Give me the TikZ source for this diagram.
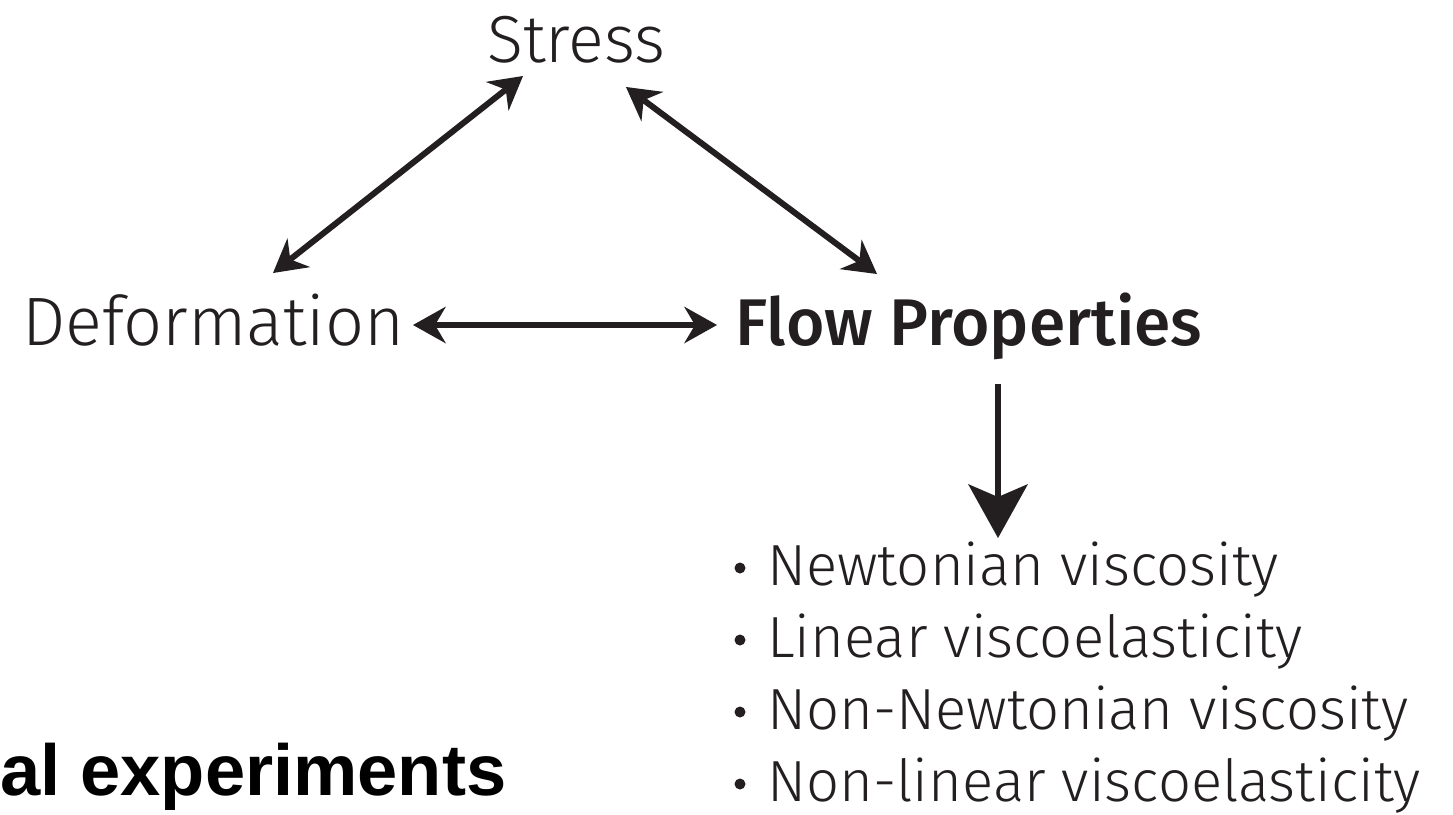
\documentclass[tikz,border=0pt]{standalone}
\usepackage{fontspec}
\setmainfont{Fira Sans Light}[BoldFont=Fira Sans Medium]
\newfontfamily\arialf{Liberation Sans}
\usetikzlibrary{arrows.meta}
\definecolor{ink}{HTML}{231F20}
\tikzset{
  lbl/.style={inner sep=0pt, anchor=base west, text=ink},
  item/.style={lbl, font=\fontsize{58}{64}\selectfont},
  bulletdot/.style={circle, fill=ink, inner sep=0pt, minimum size=11pt},
  dbl/.style={line width=6pt, draw=ink, {Stealth[length=33pt,width=37pt,inset=11pt,line width=0pt]}-{Stealth[length=33pt,width=37pt,inset=11pt,line width=0pt]}},
  down/.style={line width=6pt, draw=ink, -{Stealth[length=54pt,width=60pt,inset=13pt,line width=0pt]}}
}
\begin{document}
\begin{tikzpicture}[x=1pt,y=-1pt]
\useasboundingbox (0,0) rectangle (1453,814);
\node[lbl, font=\fontsize{66.5}{70}\selectfont] (stress) at (487,62) {Stress};
\node[lbl, font=\fontsize{68.5}{72}\selectfont] (deform) at (22,345) {Deformation};
\node[lbl, font=\fontsize{66}{70}\selectfont\bfseries] (flow) at (735,345) {Flow Properties};
\node[item] (i1) at (767,585) {Newtonian viscosity};
\node[item] (i2) at (767,657) {Linear viscoelasticity};
\node[item] (i3) at (767,729) {Non-Newtonian viscosity};
\node[item] (i4) at (767,801) {Non-linear viscoelasticity};
\node[bulletdot] (b1) at (740,568) {};
\node[bulletdot] (b2) at (740,640) {};
\node[bulletdot] (b3) at (740,712) {};
\node[bulletdot] (b4) at (740,784) {};
\node[lbl, text=black, font=\fontsize{72.3}{78}\selectfont\arialf\bfseries] (al) at (0,795) {al experiments};
\coordinate (sdA) at (273,273);
\coordinate (sdB) at (523,76);
\coordinate (sfA) at (626,87);
\coordinate (sfB) at (877,274);
\coordinate (dfA) at (413,325);
\coordinate (dfB) at (717,325);
\coordinate (fdA) at (998,384);
\coordinate (fdB) at (998,538);
\draw[dbl] (sdA) -- (sdB);
\draw[dbl] (sfA) -- (sfB);
\draw[dbl] (dfA) -- (dfB);
\draw[down] (fdA) -- (fdB);
\end{tikzpicture}
\end{document}
